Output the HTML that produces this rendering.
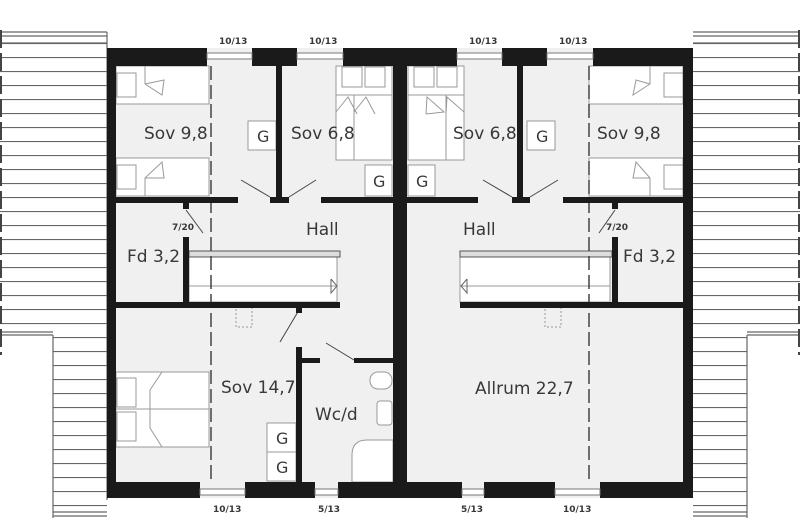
<!DOCTYPE html>
<html><head><meta charset="utf-8"><style>
html,body{margin:0;padding:0;background:#fff;}
svg{display:block;}
text{font-family:"DejaVu Sans","Liberation Sans",sans-serif;fill:#383838;}
.l{font-size:17px;}
.s{font-size:9px;font-weight:bold;fill:#222;}
</style></head><body>
<svg width="800" height="518" viewBox="0 0 800 518" xmlns="http://www.w3.org/2000/svg">
<defs>
<pattern id="hp" x="0" y="1" width="10" height="14" patternUnits="userSpaceOnUse">
<rect width="10" height="14" fill="#fff"/><line x1="0" y1="0.5" x2="10" y2="0.5" stroke="#666" stroke-width="1.2"/>
</pattern>
</defs>
<g stroke="#666" stroke-width="1.2">
<rect x="0" y="43" width="107" height="289" fill="url(#hp)" stroke="none"/>
<rect x="53" y="332" width="54" height="186" fill="url(#hp)" stroke="none"/>
<line x1="0" y1="32" x2="107" y2="32"/><line x1="0" y1="36" x2="107" y2="36"/><line x1="0" y1="43" x2="107" y2="43"/>
<line x1="107" y1="32" x2="107" y2="500"/>
<line x1="0" y1="332" x2="53" y2="332"/><line x1="0" y1="335" x2="53" y2="335"/>
<line x1="53" y1="335" x2="53" y2="518"/>
<rect x="693" y="43" width="107" height="289" fill="url(#hp)" stroke="none"/>
<rect x="693" y="332" width="54" height="186" fill="url(#hp)" stroke="none"/>
<line x1="693" y1="32" x2="800" y2="32"/><line x1="693" y1="36" x2="800" y2="36"/><line x1="693" y1="43" x2="800" y2="43"/>
<line x1="747" y1="332" x2="800" y2="332"/><line x1="747" y1="335" x2="800" y2="335"/>
<line x1="747" y1="335" x2="747" y2="518"/>
<line x1="53" y1="512" x2="107" y2="512"/><line x1="53" y1="516" x2="107" y2="516"/>
<line x1="693" y1="512" x2="747" y2="512"/><line x1="693" y1="516" x2="747" y2="516"/>
</g>
<line x1="1" y1="30" x2="1" y2="355" stroke="#444" stroke-width="2" stroke-dasharray="18,5"/>
<line x1="799" y1="30" x2="799" y2="355" stroke="#444" stroke-width="2" stroke-dasharray="18,5"/>
<rect x="107" y="48" width="586" height="450" fill="#f0f0f0"/>
<g fill="#fff" stroke="#999" stroke-width="1">
<rect x="116" y="66" width="93" height="38"/><rect x="117" y="73" width="19" height="24"/><line x1="145" y1="66" x2="145" y2="84"/><polyline points="145,84 162,95 164,80 145,84" fill="none"/>
<rect x="116" y="158" width="93" height="38"/><rect x="117" y="165" width="19" height="24"/><line x1="145" y1="196" x2="145" y2="178"/><polyline points="145,178 162,162 164,178 145,178" fill="none"/>
<rect x="336" y="66" width="56" height="94"/><rect x="342" y="67" width="20" height="20"/><rect x="365" y="67" width="20" height="20"/><line x1="336" y1="95" x2="392" y2="95"/><line x1="354" y1="95" x2="354" y2="160"/>
<polyline points="336,112 348,97 357,114" fill="none"/><polyline points="354,112 366,97 375,114" fill="none"/>
<rect x="408" y="66" width="56" height="94"/><rect x="414" y="67" width="20" height="20"/><rect x="437" y="67" width="20" height="20"/><line x1="408" y1="95" x2="464" y2="95"/><line x1="446" y1="95" x2="446" y2="160"/>
<polyline points="426,114 427,97 444,112 426,114" fill="none"/><polyline points="446,114 447,97 464,112" fill="none"/>
<rect x="589" y="66" width="94" height="38"/><rect x="664" y="73" width="19" height="24"/><line x1="650" y1="66" x2="650" y2="84"/><polyline points="650,84 633,95 636,80 650,84" fill="none"/>
<rect x="589" y="158" width="94" height="38"/><rect x="664" y="165" width="19" height="24"/><line x1="650" y1="196" x2="650" y2="178"/><polyline points="650,178 636,162 633,178 650,178" fill="none"/>
<rect x="116" y="372" width="93" height="75"/><rect x="117" y="378" width="19" height="29"/><rect x="117" y="412" width="19" height="29"/><line x1="116" y1="409" x2="209" y2="409"/><polyline points="162,372 150,390 150,428 162,447" fill="none"/>
<rect x="248" y="121" width="28" height="29"/><rect x="527" y="121" width="28" height="29"/>
<rect x="365" y="165" width="27" height="31"/><rect x="408" y="165" width="27" height="31"/>
<rect x="267" y="423" width="29" height="29"/><rect x="267" y="452" width="29" height="29"/>
<rect x="370" y="372" width="22" height="17" rx="8"/><rect x="377" y="401" width="15" height="24" rx="3"/>
<path d="M352 482 V455 Q352 440 367 440 H393 V482 Z"/>
<rect x="189" y="257" width="148" height="45"/><line x1="189" y1="286" x2="337" y2="286"/>
<rect x="460" y="257" width="150" height="45"/><line x1="460" y1="286" x2="610" y2="286"/>
<polyline points="331,279 337,286 331,293 331,279" fill="none" stroke="#666"/>
<polyline points="467,279 461,286 467,293 467,279" fill="none" stroke="#666"/>
</g>
<rect x="189" y="251" width="151" height="6" fill="#ddd" stroke="#555"/>
<rect x="460" y="251" width="152" height="6" fill="#ddd" stroke="#555"/>
<rect x="236" y="307" width="16" height="20" fill="none" stroke="#999" stroke-dasharray="2,2"/>
<rect x="545" y="307" width="16" height="20" fill="none" stroke="#999" stroke-dasharray="2,2"/>
<line x1="211" y1="66" x2="211" y2="482" stroke="#444" stroke-width="1.5" stroke-dasharray="14,5"/>
<line x1="589" y1="66" x2="589" y2="482" stroke="#444" stroke-width="1.5" stroke-dasharray="14,5"/>
<g stroke="#444" stroke-width="1" fill="none">
<line x1="270" y1="197" x2="241" y2="180"/><line x1="289" y1="197" x2="316" y2="180"/>
<line x1="512" y1="197" x2="483" y2="180"/><line x1="530" y1="197" x2="558" y2="180"/>
<line x1="186" y1="210" x2="203" y2="233"/><line x1="615" y1="210" x2="599" y2="233"/>
<line x1="299" y1="310" x2="280" y2="342"/><line x1="354" y1="360" x2="326" y2="343"/>
</g>
<g fill="#1a1a1a">
<rect x="107" y="48" width="100" height="18"/><rect x="252" y="48" width="45" height="18"/><rect x="343" y="48" width="114" height="18"/><rect x="502" y="48" width="45" height="18"/><rect x="593" y="48" width="100" height="18"/>
<rect x="107" y="48" width="9" height="450"/><rect x="683" y="48" width="10" height="450"/><rect x="393" y="48" width="14" height="434"/>
<rect x="107" y="482" width="93" height="16"/><rect x="245" y="482" width="70" height="16"/><rect x="338" y="482" width="124" height="16"/><rect x="484" y="482" width="71" height="16"/><rect x="600" y="482" width="93" height="16"/>
<rect x="116" y="197" width="122" height="6"/><rect x="270" y="197" width="19" height="6"/><rect x="321" y="197" width="72" height="6"/>
<rect x="276" y="66" width="6" height="134"/>
<rect x="407" y="197" width="71" height="6"/><rect x="512" y="197" width="18" height="6"/><rect x="563" y="197" width="120" height="6"/>
<rect x="517" y="66" width="6" height="134"/>
<rect x="183" y="237" width="6" height="68"/><rect x="183" y="203" width="6" height="6"/>
<rect x="612" y="237" width="6" height="68"/><rect x="612" y="203" width="6" height="6"/>
<rect x="116" y="302" width="224" height="6"/><rect x="460" y="302" width="223" height="6"/>
<rect x="296" y="308" width="6" height="5"/>
<rect x="296" y="347" width="6" height="135"/><rect x="302" y="358" width="18" height="5"/><rect x="354" y="358" width="39" height="5"/>
</g>
<g fill="#fff" stroke="#777" stroke-width="1">
<rect x="207" y="53" width="45" height="6"/><rect x="297" y="53" width="46" height="6"/><rect x="457" y="53" width="45" height="6"/><rect x="547" y="53" width="46" height="6"/>
<rect x="200" y="489" width="45" height="6"/><rect x="315" y="489" width="23" height="6"/><rect x="462" y="489" width="22" height="6"/><rect x="555" y="489" width="45" height="6"/>
</g>
<g class="l">
<text x="144" y="139">Sov 9,8</text><text x="291" y="139">Sov 6,8</text>
<text x="453" y="139">Sov 6,8</text><text x="597" y="139">Sov 9,8</text>
<text x="306" y="235">Hall</text><text x="463" y="235">Hall</text>
<text x="127" y="262">Fd 3,2</text><text x="623" y="262">Fd 3,2</text>
<text x="221" y="393">Sov 14,7</text><text x="315" y="420">Wc/d</text>
<text x="475" y="394">Allrum 22,7</text>
<text x="257" y="142" font-size="16">G</text><text x="536" y="142" font-size="16">G</text>
<text x="373" y="187" font-size="16">G</text><text x="416" y="187" font-size="16">G</text>
<text x="276" y="444" font-size="16">G</text><text x="276" y="473" font-size="16">G</text>
</g>
<g class="s">
<text x="219" y="44">10/13</text><text x="309" y="44">10/13</text><text x="469" y="44">10/13</text><text x="559" y="44">10/13</text>
<text x="213" y="512">10/13</text><text x="318" y="512">5/13</text><text x="461" y="512">5/13</text><text x="563" y="512">10/13</text>
<text x="172" y="230">7/20</text><text x="606" y="230">7/20</text>
</g>
</svg>
</body></html>
